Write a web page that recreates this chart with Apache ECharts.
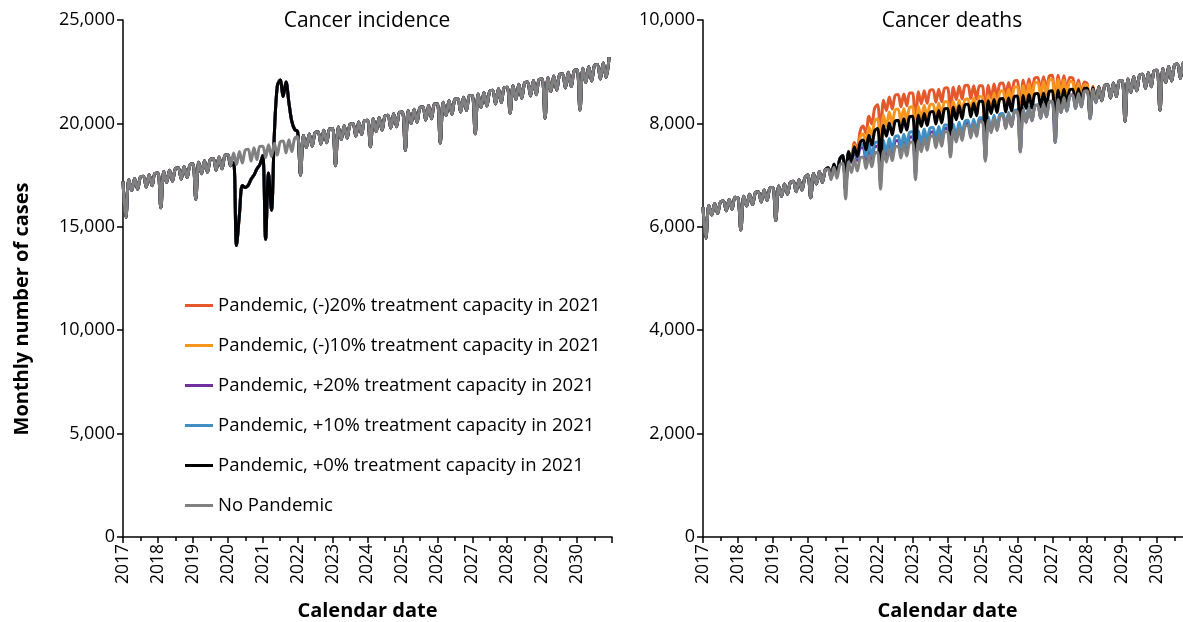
<!DOCTYPE html>
<html>
<head>
<meta charset="utf-8">
<script src="https://cdn.jsdelivr.net/npm/echarts@6/dist/echarts.min.js"></script>
<style>
  html, body { margin: 0; padding: 0; background: #fff; }
  #chart { width: 1183px; height: 622px; }
</style>
</head>
<body>
<div id="chart"></div>
<script>
// monthly values, Jan 2017 .. Dec 2030 (168 months)
var startYear = 2017;

var scenarioNames = [
  'Pandemic, (-)20% treatment capacity in 2021',
  'Pandemic, (-)10% treatment capacity in 2021',
  'Pandemic, +20% treatment capacity in 2021',
  'Pandemic, +10% treatment capacity in 2021',
  'Pandemic, +0% treatment capacity in 2021',
  'No Pandemic'
];
var scenarioColors = ['#e4582b', '#f7951e', '#7030a0', '#3f8fc4', '#000000', '#808080'];

// Cancer incidence, no pandemic
var incidenceNoPandemic = [
  17200,15450,17270,16750,17340,16820,17410,17450,16920,17520,16990,17590,
  17600,15920,17670,17140,17740,17210,17810,17850,17310,17920,17380,17990,
  18050,16330,18120,17570,18190,17640,18260,18300,17740,18370,17810,18440,
  18500,17950,18570,18010,18640,18080,18710,18750,18180,18820,18250,18890,
  18900,18350,18970,18400,19040,18470,19110,19150,18570,19210,18640,19280,
  19350,17500,19420,18830,19490,18900,19560,19600,19000,19670,19070,19740,
  19750,17950,19820,19220,19890,19290,19960,20000,19390,20070,19460,20140,
  20150,18870,20220,19610,20290,19680,20360,20400,19780,20470,19840,20540,
  20550,18700,20620,19990,20690,20060,20760,20800,20160,20870,20230,20940,
  20950,19050,21020,20380,21090,20450,21160,21200,20550,21270,20620,21340,
  21350,19500,21420,20770,21490,20840,21560,21600,20940,21670,21010,21740,
  21750,20500,21820,21160,21890,21220,21960,22000,21330,22070,21390,22140,
  22150,20250,22220,21540,22290,21610,22360,22400,21710,22470,21780,22540,
  22600,20650,22670,21980,22740,22050,22810,22850,22150,22920,22220,23200
];
// Cancer incidence with the pandemic, Mar 2020 .. Jan 2022 (all capacity scenarios)
var incidencePandemicStart = 38;
var incidencePandemic = [
  18100,14100,15600,17000,16900,17000,17300,17500,17800,18000,
  18450,14400,17600,15800,19500,21800,22100,21300,22000,21000,20100,19700,
  19600
];

// Cancer deaths, no pandemic
var deathsNoPandemic = [
  6380,5780,6410,6230,6450,6260,6480,6500,6310,6530,6340,6570,
  6560,5940,6590,6400,6630,6430,6660,6680,6480,6710,6510,6750,
  6760,6120,6790,6590,6830,6630,6860,6880,6680,6910,6710,6950,
  7000,6560,7030,6830,7070,6860,7100,7120,6910,7150,6940,7190,
  7230,6540,7260,7050,7300,7080,7330,7350,7130,7380,7160,7420,
  7440,6730,7470,7250,7510,7280,7540,7560,7330,7590,7370,7630,
  7640,6910,7670,7450,7710,7480,7740,7760,7530,7790,7560,7830,
  7840,7350,7870,7640,7910,7670,7940,7960,7720,7990,7750,8030,
  8030,7270,8060,7820,8100,7860,8130,8150,7900,8180,7940,8220,
  8230,7450,8260,8020,8300,8050,8330,8350,8100,8380,8130,8420,
  8430,7630,8460,8210,8500,8240,8530,8550,8290,8580,8320,8620,
  8630,8090,8660,8400,8700,8440,8730,8750,8490,8780,8520,8820,
  8830,8040,8860,8600,8900,8630,8930,8950,8680,8980,8710,9020,
  9030,8250,9060,8790,9100,8820,9130,9150,8870,9180,8910,9220
];
// extra deaths above "No Pandemic", Jul 2020 .. Jun 2028
var deathsExtraStart = 42;
var extraMinus20 = [
  0,20,40,60,90,120,
  150,170,200,260,330,420,520,600,680,760,830,880,
  920,950,980,1000,1000,1000,1000,1000,990,980,970,960,
  950,940,940,930,920,910,900,890,880,870,860,850,
  850,840,830,820,810,800,790,780,760,740,720,700,
  700,690,680,670,660,650,640,630,620,610,600,600,
  600,590,580,570,560,550,550,540,530,520,510,500,
  500,490,470,450,420,390,360,330,300,260,220,180,
  140,100,60,30,10,0
];
var extraMinus10 = [
  0,20,40,60,90,120,
  150,170,190,230,280,340,400,450,500,550,600,630,
  650,670,690,700,710,720,720,720,710,700,690,680,
  680,670,660,650,640,630,620,610,600,600,590,590,
  580,570,560,550,540,530,520,510,500,500,490,490,
  480,480,480,480,480,480,480,480,480,480,480,480,
  480,470,470,460,460,450,450,440,440,430,430,420,
  420,410,390,370,340,310,280,250,220,190,160,130,
  100,70,40,20,10,0
];
var extraPlus20 = [
  0,20,40,60,90,120,
  150,160,170,190,200,200,190,180,170,150,140,130,
  120,120,120,120,110,110,110,110,110,100,100,100,
  100,100,100,90,90,90,80,80,80,70,70,70,
  60,60,60,50,50,50,40,40,40,30,30,30,
  30,30,20,20,20,20,10,10,10,0,0,0
];
var extraPlus10 = [
  0,20,40,60,90,120,
  150,170,190,210,230,250,250,240,230,220,210,200,
  200,200,200,200,200,200,200,200,200,200,200,200,
  200,190,190,180,180,170,170,160,160,150,150,140,
  130,130,120,120,110,110,100,100,90,90,80,80,
  80,70,70,60,60,50,50,40,40,30,30,30,
  30,30,20,20,20,20,10,10,10,10,0,0
];
var extraPlus0 = [
  0,20,40,60,90,120,
  150,170,190,220,250,280,300,330,360,390,420,440,
  460,480,490,500,500,500,500,500,500,500,500,500,
  500,500,490,490,480,480,470,470,460,460,450,450,
  450,440,440,430,430,420,420,410,410,400,400,400,
  400,390,380,370,360,350,340,330,320,310,300,300,
  300,290,280,270,260,250,240,230,220,210,200,200,
  200,190,180,170,160,140,120,110,100,90,70,60,
  50,40,30,20,10,0
];

var font = 'Open Sans';

function toPoints(vals) {
  return vals.map(function (v, i) { return [startYear + i / 12, v]; });
}
function withPandemicIncidence() {
  var out = incidenceNoPandemic.slice();
  incidencePandemic.forEach(function (v, k) { out[incidencePandemicStart + k] = v; });
  return out;
}
function withExtraDeaths(extra) {
  return deathsNoPandemic.map(function (v, i) {
    var k = i - deathsExtraStart;
    return (k >= 0 && k < extra.length) ? v + extra[k] : v;
  });
}

var incidenceSets = [
  withPandemicIncidence(), withPandemicIncidence(), withPandemicIncidence(),
  withPandemicIncidence(), withPandemicIncidence(), incidenceNoPandemic
];
var deathSets = [
  withExtraDeaths(extraMinus20), withExtraDeaths(extraMinus10), withExtraDeaths(extraPlus20),
  withExtraDeaths(extraPlus10), withExtraDeaths(extraPlus0), deathsNoPandemic
];

var makeSeries = function (sets, idx) {
  return sets.map(function (vals, s) {
    return {
      name: scenarioNames[s],
      type: 'line',
      xAxisIndex: idx,
      yAxisIndex: idx,
      data: toPoints(vals),
      showSymbol: false,
      smooth: 0.35,
      lineStyle: { width: 3, color: scenarioColors[s] },
      itemStyle: { color: scenarioColors[s] },
      emphasis: { disabled: true }
    };
  });
};

var xAxisBase = function (idx) {
  return {
    type: 'value',
    gridIndex: idx,
    min: 2017,
    max: 2031,
    interval: 1,
    axisLine: { show: true, onZero: false, lineStyle: { color: '#000', width: 1.5 } },
    axisTick: { show: true, length: 6, lineStyle: { color: '#000', width: 1.5 } },
    minorTick: { show: true, splitNumber: 2, length: 4, lineStyle: { color: '#000', width: 1.5 } },
    splitLine: { show: false },
    axisLabel: {
      rotate: 90, fontSize: 17.5, color: '#000', fontFamily: font, margin: 7,
      formatter: function (v) { return v < 2031 ? String(v) : ''; }
    },
    name: 'Calendar date',
    nameLocation: 'middle',
    nameGap: 64,
    nameTextStyle: { fontSize: 20, fontWeight: 'bold', color: '#000', fontFamily: font }
  };
};
var yAxisBase = function (idx, max, step) {
  return {
    type: 'value',
    gridIndex: idx,
    min: 0,
    max: max,
    interval: step,
    axisLine: { show: true, lineStyle: { color: '#000', width: 1.5 } },
    axisTick: { show: true, length: 6, lineStyle: { color: '#000', width: 1.5 } },
    splitLine: { show: false },
    axisLabel: {
      fontSize: 18, color: '#000', fontFamily: font, margin: 8,
      formatter: function (v) { return v.toLocaleString('en-US'); }
    }
  };
};

var chart = echarts.init(document.getElementById('chart'));

var option = {
  backgroundColor: '#fff',
  animation: false,
  title: [
    { text: 'Cancer incidence', left: 367, top: 11, padding: 0, textAlign: 'center',
      textStyle: { fontSize: 21, fontWeight: 'normal', color: '#000', fontFamily: font } },
    { text: 'Cancer deaths', left: 952, top: 11, padding: 0, textAlign: 'center',
      textStyle: { fontSize: 21, fontWeight: 'normal', color: '#000', fontFamily: font } }
  ],
  graphic: [{
    type: 'text',
    x: 22,
    y: 309,
    rotation: Math.PI / 2,
    style: {
      text: 'Monthly number of cases',
      fill: '#000',
      font: 'bold 20px "Open Sans"',
      textAlign: 'center',
      textVerticalAlign: 'middle'
    }
  }],
  legend: {
    data: scenarioNames,
    orient: 'vertical',
    left: 185,
    top: 294,
    padding: 0,
    icon: 'rect',
    itemWidth: 28,
    itemHeight: 3,
    itemGap: 17,
    textStyle: { fontSize: 18.5, color: '#000', fontFamily: font, lineHeight: 23 }
  },
  grid: [
    { left: 123, top: 20, width: 489, height: 517, outerBoundsMode: 'none', containLabel: false },
    { left: 703, top: 20, width: 489, height: 517, outerBoundsMode: 'none', containLabel: false }
  ],
  xAxis: [xAxisBase(0), xAxisBase(1)],
  yAxis: [yAxisBase(0, 25000, 5000), yAxisBase(1, 10000, 2000)],
  series: makeSeries(incidenceSets, 0).concat(makeSeries(deathSets, 1))
};
chart.setOption(option);
</script>
</body>
</html>
